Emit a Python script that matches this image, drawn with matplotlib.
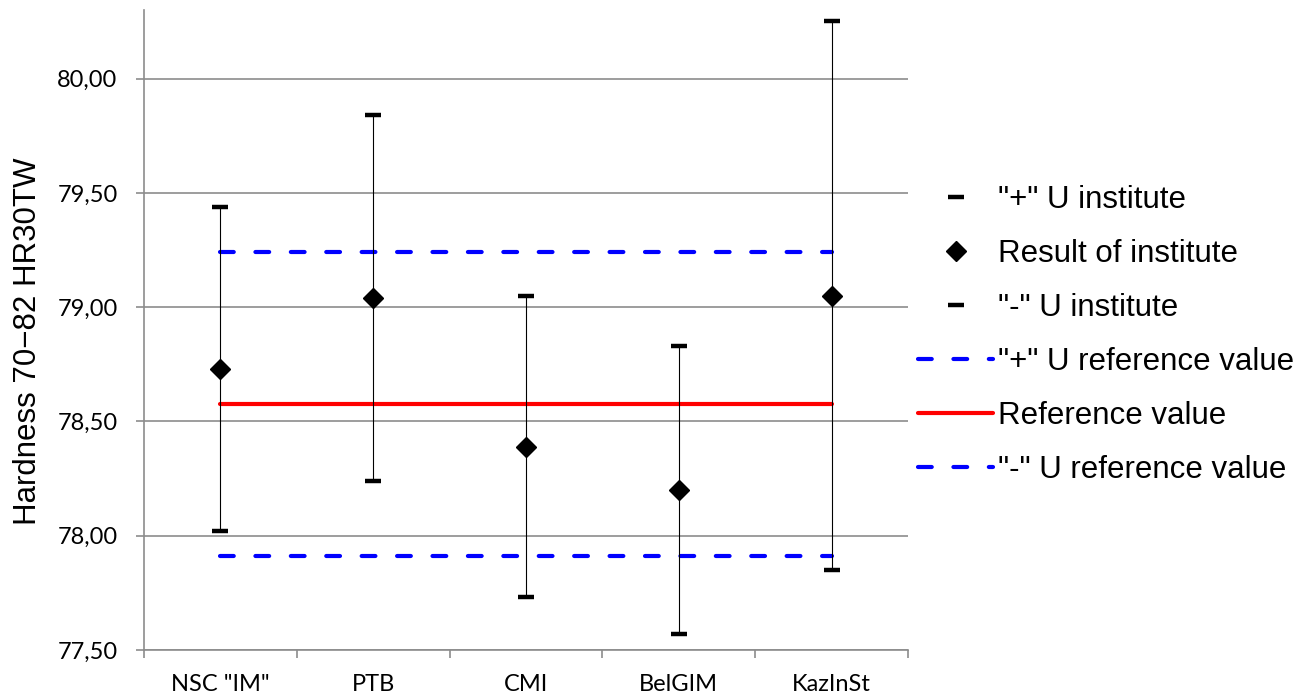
import matplotlib
matplotlib.use('Agg')
import matplotlib.pyplot as plt
from matplotlib.ticker import FuncFormatter, FixedLocator

# данные
institutes = ['NSC "IM"', 'PTB', 'CMI', 'BelGIM', 'KazInSt']
result = [78.73, 79.04, 78.39, 78.20, 79.05]
u_plus = [79.44, 79.84, 79.05, 78.83, 80.25]
u_minus = [78.02, 78.24, 77.73, 77.57, 77.85]
ref_value = 78.575
ref_plus = 79.24
ref_minus = 77.91

y_ticks = [77.5, 78.0, 78.5, 79.0, 79.5, 80.0]

fig = plt.figure(figsize=(13.12, 7.0), dpi=100)
ax = fig.add_axes([144 / 1312, 1 - 650 / 700, (908 - 144) / 1312, (650 - 10) / 700])

x = list(range(len(institutes)))
n = len(institutes)

# вертикальные линии погрешности
ax.vlines(x, u_minus, u_plus, color='black', linewidth=0.8, zorder=3)

h_plus, = ax.plot(x, u_plus, linestyle='none', marker='_', markersize=12,
                  markeredgewidth=3.2, color='black', zorder=4, label='"+" U institute')
h_res, = ax.plot(x, result, linestyle='none', marker='D', markersize=10.5,
                 color='black', zorder=5, label='Result of institute')
h_minus, = ax.plot(x, u_minus, linestyle='none', marker='_', markersize=12,
                   markeredgewidth=3.2, color='black', zorder=4, label='"-" U institute')

h_rp, = ax.plot([x[0], x[-1]], [ref_plus, ref_plus], color='#0000FF', linewidth=3,
                dashes=(3.3, 5.2), dash_capstyle='round', zorder=2,
                label='"+" U reference value')
h_ref, = ax.plot([x[0], x[-1]], [ref_value, ref_value], color='#FF0000', linewidth=3,
                 solid_capstyle='round', zorder=2, label='Reference value')
h_rm, = ax.plot([x[0], x[-1]], [ref_minus, ref_minus], color='#0000FF', linewidth=3,
                dashes=(3.3, 5.2), dash_capstyle='round', zorder=2,
                label='"-" U reference value')

ax.set_xlim(-0.5, n - 0.5)
ax.set_ylim(77.5, 80.3)

ax.yaxis.set_major_locator(FixedLocator(y_ticks))
ax.yaxis.set_major_formatter(FuncFormatter(lambda v, p: f'{v:.2f}'.replace('.', ',')))
ax.grid(axis='y', color='#8c8c8c', linewidth=1.2)
ax.set_axisbelow(True)

ax.set_xticks(x)
ax.set_xticklabels(institutes)
ax.set_xticks([i - 0.5 for i in range(n + 1)], minor=True)
ax.tick_params(axis='x', which='major', length=0, pad=17, labelsize=17)
ax.tick_params(axis='x', which='minor', length=6, width=1.2, color='#8c8c8c', direction='out')
ax.tick_params(axis='y', length=6, width=1.2, color='#8c8c8c', direction='out',
               labelsize=17, pad=13)
for lab in ax.get_xticklabels() + ax.get_yticklabels():
    lab.set_family('Lato')

for s in ['top', 'right']:
    ax.spines[s].set_visible(False)
for s in ['left', 'bottom']:
    ax.spines[s].set_color('#8c8c8c')
    ax.spines[s].set_linewidth(1.2)

ax.set_ylabel('Hardness 70\u221282 HR30TW', fontsize=22.5, family='Liberation Sans')
ax.yaxis.set_label_coords(-0.132, 0.483)

fig.legend(handles=[h_plus, h_res, h_minus, h_rp, h_ref, h_rm],
           loc='upper left', bbox_to_anchor=(918 / 1312, 1 - 185 / 700),
           frameon=False, prop={'family': 'Liberation Sans', 'size': 22.5},
           handlelength=2.4, handletextpad=0.15, labelspacing=0.77,
           borderpad=0, borderaxespad=0)

plt.savefig('out.png', dpi=100)
